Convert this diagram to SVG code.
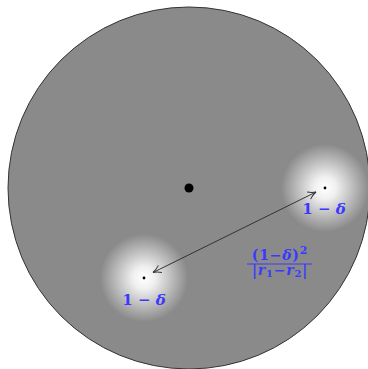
<svg xmlns="http://www.w3.org/2000/svg" width="368" height="369" viewBox="0 0 368 369">
<style>
.lbl{font-family:"DejaVu Serif","Liberation Serif",serif;font-weight:bold;fill:#3a3aff}
.it{font-style:italic}
.fr{letter-spacing:0.8px}
.conn{stroke:#333;stroke-width:1;fill:none}
</style>
<defs>
<radialGradient id="glow">
<stop offset="0" stop-color="#ffffff"/>
<stop offset="0.25" stop-color="#f0f0f0"/>
<stop offset="1" stop-color="#8a8a8a"/>
</radialGradient>
<marker id="ah" viewBox="0 0 10 10" refX="9" refY="5" markerWidth="10" markerHeight="10" markerUnits="userSpaceOnUse" orient="auto-start-reverse">
<path d="M1,1 Q5,4 9,5 Q5,6 1,9" fill="none" stroke="#333" stroke-width="1"/>
</marker>
</defs>
<g id="disk">
<circle cx="189" cy="188" r="181" fill="#8a8a8a" stroke="#333" stroke-width="1"/>
<circle cx="189" cy="188" r="4.5" fill="#000"/>
</g>
<g id="p1">
<circle cx="144" cy="278" r="44" fill="url(#glow)"/>
<circle cx="144" cy="278" r="1.4" fill="#000"/>
<text class="lbl" x="144" y="305" font-size="15" text-anchor="middle">1 − <tspan class="it">δ</tspan></text>
</g>
<g id="p2">
<circle cx="325" cy="188" r="44" fill="url(#glow)"/>
<circle cx="325" cy="188" r="1.4" fill="#000"/>
<text class="lbl" x="324" y="214" font-size="15" text-anchor="middle">1 − <tspan class="it">δ</tspan></text>
</g>
<g id="connectors">
<line class="conn" x1="153" y1="272.5" x2="316" y2="192" marker-start="url(#ah)" marker-end="url(#ah)"/>
</g>
<g id="frac">
<text class="lbl fr" x="280" y="260" font-size="14" text-anchor="middle">(1−<tspan class="it">δ</tspan>)<tspan dy="-6" font-size="11">2</tspan></text>
<line x1="247" y1="264" x2="312" y2="264" stroke="#3a3aff" stroke-width="1.2"/>
<text class="lbl fr" x="280" y="275" font-size="14" text-anchor="middle">|<tspan class="it">r</tspan><tspan dy="2" font-size="10">1</tspan><tspan dy="-2">−</tspan><tspan class="it">r</tspan><tspan dy="2" font-size="10">2</tspan><tspan dy="-2">|</tspan></text>
</g>
</svg>
